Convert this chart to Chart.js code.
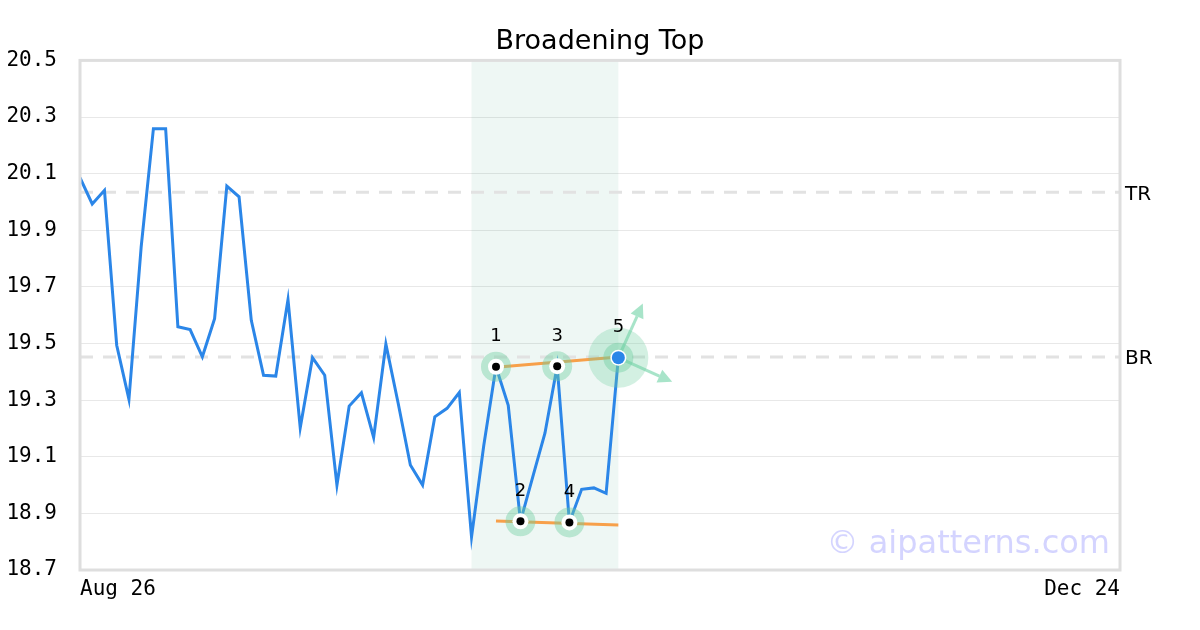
<!DOCTYPE html>
<html>
<head>
<meta charset="utf-8">
<script src="https://cdn.jsdelivr.net/npm/chart.js@4"></script>
<style>
html,body{margin:0;padding:0;background:#fff;}
#wrap{width:1200px;height:630px;}
</style>
</head>
<body>
<div id="wrap"><canvas id="c" width="1200" height="630"></canvas></div>
<script>
// ---- data ----
const closes = [20.086, 19.993, 20.041, 19.494, 19.303, 19.841, 20.259, 20.259, 19.559, 19.549,
  19.453, 19.588, 20.056, 20.018, 19.582, 19.388, 19.385, 19.655, 19.202, 19.450,
  19.388, 19.000, 19.279, 19.326, 19.168, 19.498, 19.290, 19.071, 19.000, 19.241,
  19.271, 19.327, 18.817, 19.140, 19.418, 19.282, 18.872, 19.028, 19.183, 19.420,
  18.868, 18.985, 18.990, 18.971, 19.450];
const xLastIndex = 85;
const xTickIdx = [0, 85];
const xTickLabels = ["Aug 26", "Dec 24"];
const yTicks = [18.7, 18.9, 19.1, 19.3, 19.5, 19.7, 19.9, 20.1, 20.3, 20.5];
const patternIdx = [34, 36, 39, 40, 44];
const patternLabels = ["1", "2", "3", "4", "5"];
const topTrend = [[34, 19.416], [44, 19.452]];
const bottomTrend = [[34, 18.873], [44, 18.859]];
const zoneRange = [32, 44];
const refLevels = [20.034, 19.452];
const refLabels = ["TR", "BR"];
const arrowTips = [[46.0, 19.641], [48.4, 19.365]];
const titleText = "Broadening Top";
const watermark = "\u00a9 aipatterns.com";

const lineData = closes.map((v, i) => ({x: i, y: v}));
const toXY = arr => arr.map(p => ({x: p[0], y: p[1]}));

const overlay = {
  id: 'overlay',
  beforeDatasetsDraw(chart) {
    const {ctx, chartArea: a, scales: {x, y}} = chart;
    ctx.save();
    const x0 = x.getPixelForValue(zoneRange[0]), x1 = x.getPixelForValue(zoneRange[1]);
    ctx.fillStyle = 'rgba(0,140,90,0.065)';
    ctx.fillRect(x0, a.top, x1 - x0, a.bottom - a.top);
    ctx.strokeStyle = '#e2e2e2';
    ctx.lineWidth = 3;
    ctx.setLineDash([13, 10]);
    refLevels.forEach(v => {
      const py = y.getPixelForValue(v);
      ctx.beginPath(); ctx.moveTo(a.left, py); ctx.lineTo(a.right, py); ctx.stroke();
    });
    ctx.restore();
  },
  afterDatasetsDraw(chart) {
    const {ctx, chartArea: a, scales: {x, y}} = chart;
    ctx.save();
    const last = patternIdx[patternIdx.length - 1];
    const lx = x.getPixelForValue(last), ly = y.getPixelForValue(closes[last]);
    ctx.strokeStyle = 'rgba(110,210,165,0.6)';
    ctx.fillStyle = 'rgba(110,210,165,0.6)';
    ctx.lineWidth = 3;
    arrowTips.forEach(t => {
      const tx = x.getPixelForValue(t[0]), ty = y.getPixelForValue(t[1]);
      const ang = Math.atan2(ty - ly, tx - lx);
      const hl = 14, hw = 7;
      const bx = tx - hl * Math.cos(ang), by = ty - hl * Math.sin(ang);
      ctx.beginPath(); ctx.moveTo(lx, ly); ctx.lineTo(bx, by); ctx.stroke();
      ctx.beginPath();
      ctx.moveTo(tx, ty);
      ctx.lineTo(bx + hw * Math.sin(ang), by - hw * Math.cos(ang));
      ctx.lineTo(bx - hw * Math.sin(ang), by + hw * Math.cos(ang));
      ctx.closePath(); ctx.fill();
    });
    ctx.fillStyle = 'rgba(110,205,160,0.3)';
    ctx.beginPath(); ctx.arc(lx, ly, 30, 0, Math.PI * 2); ctx.fill();
    patternIdx.forEach((idx, k) => {
      const px = x.getPixelForValue(idx), py = y.getPixelForValue(closes[idx]);
      ctx.fillStyle = 'rgba(110,205,160,0.42)';
      ctx.beginPath(); ctx.arc(px, py, 15, 0, Math.PI * 2); ctx.fill();
      ctx.fillStyle = '#ffffff';
      ctx.beginPath(); ctx.arc(px, py, 8, 0, Math.PI * 2); ctx.fill();
      if (k === patternIdx.length - 1) {
        ctx.fillStyle = '#2b86e8';
        ctx.beginPath(); ctx.arc(px, py, 6.5, 0, Math.PI * 2); ctx.fill();
      } else {
        ctx.fillStyle = '#000000';
        ctx.beginPath(); ctx.arc(px, py, 4, 0, Math.PI * 2); ctx.fill();
      }
      ctx.fillStyle = '#000';
      ctx.font = '18px "DejaVu Sans"';
      ctx.textAlign = 'center';
      ctx.textBaseline = 'middle';
      ctx.fillText(patternLabels[k], px, py - 30);
    });
    ctx.restore();
  },
  afterDraw(chart) {
    const {ctx, chartArea: a, scales: {y}} = chart;
    ctx.save();
    ctx.strokeStyle = '#dedede';
    ctx.lineWidth = 3;
    ctx.strokeRect(a.left, a.top, a.right - a.left, a.bottom - a.top);
    ctx.fillStyle = '#000';
    ctx.font = '20px "DejaVu Sans"';
    ctx.textAlign = 'left';
    ctx.textBaseline = 'middle';
    refLevels.forEach((v, i) => ctx.fillText(refLabels[i], a.right + 5, y.getPixelForValue(v) + 2));
    ctx.fillStyle = 'rgba(170,170,255,0.5)';
    ctx.font = '32px "DejaVu Sans"';
    ctx.textAlign = 'right';
    ctx.textBaseline = 'alphabetic';
    ctx.fillText(watermark, a.right - 10, a.bottom - 17);
    ctx.restore();
  }
};

new Chart(document.getElementById('c'), {
  type: 'line',
  data: {
    datasets: [
      {data: lineData, borderColor: '#2b86e8', borderWidth: 3, pointRadius: 0, tension: 0, order: 0},
      {data: toXY(topTrend), borderColor: '#f7a04a', borderWidth: 3, pointRadius: 0, order: 1},
      {data: toXY(bottomTrend), borderColor: '#f7a04a', borderWidth: 3, pointRadius: 0, order: 1}
    ]
  },
  options: {
    responsive: false,
    animation: false,
    events: [],
    layout: {padding: 0},
    plugins: {
      legend: {display: false},
      tooltip: {enabled: false},
      title: {
        display: true, text: titleText, color: '#000',
        font: {family: 'DejaVu Sans', size: 27, weight: 'normal'},
        padding: {top: 26, bottom: 2}
      }
    },
    scales: {
      x: {
        type: 'linear', min: 0, max: xLastIndex,
        afterBuildTicks: s => { s.ticks = xTickIdx.map(v => ({value: v})); },
        afterFit: s => { s.height = 60; },
        grid: {display: false, drawTicks: false},
        border: {display: false},
        ticks: {
          align: 'inner', maxRotation: 0, autoSkip: false, padding: 7, color: '#000',
          font: {family: 'DejaVu Sans Mono', size: 21},
          callback: (v) => xTickLabels[xTickIdx.indexOf(v)]
        }
      },
      y: {
        min: yTicks[0], max: yTicks[yTicks.length - 1],
        afterBuildTicks: s => { s.ticks = yTicks.map(v => ({value: v})); },
        afterFit: s => { s.width = 80; },
        grid: {color: '#e8e8e8', lineWidth: 1, drawTicks: false},
        border: {display: false},
        ticks: {
          padding: 23, color: '#000',
          font: {family: 'DejaVu Sans Mono', size: 21},
          callback: v => Number(v).toFixed(1)
        }
      },
      yRight: {
        position: 'right', min: yTicks[0], max: yTicks[yTicks.length - 1],
        afterFit: s => { s.width = 80; },
        grid: {display: false, drawTicks: false},
        border: {display: false},
        ticks: {display: false}
      }
    }
  },
  plugins: [overlay]
});
</script>
</body>
</html>
